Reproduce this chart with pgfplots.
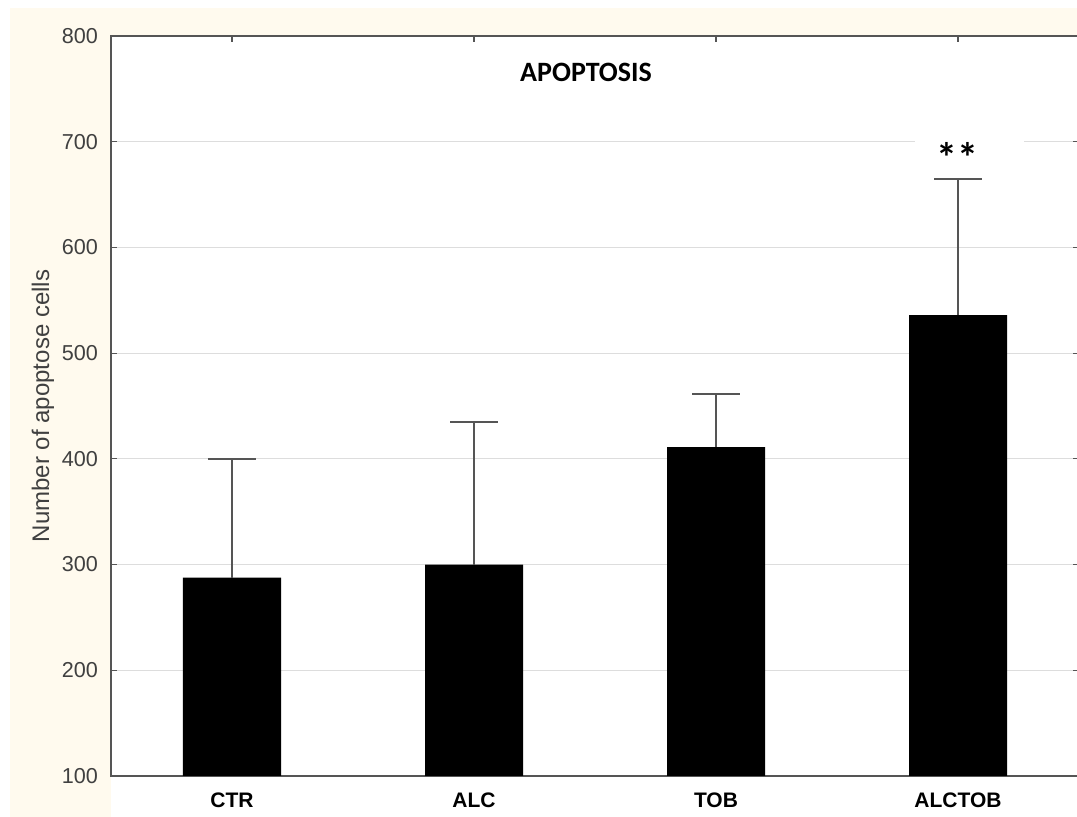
\documentclass[border=0pt]{standalone}
\usepackage{pgfplots}
\pgfplotsset{compat=1.18}
\usepackage{fontspec}
\setmainfont{Liberation Sans}
\newfontfamily\calibri{Carlito}
\definecolor{cream}{RGB}{255,250,238}
\definecolor{axgray}{RGB}{85,85,85}
\definecolor{gridgray}{RGB}{221,221,221}
\definecolor{txtgray}{RGB}{64,64,64}
\begin{document}
\begin{tikzpicture}
\useasboundingbox (0,0) rectangle (538.5pt,408.5pt);
\clip (0,0) rectangle (538.5pt,408.5pt);
\fill[cream] (5pt,0) rectangle (538.5pt,404.5pt);
\fill[white] (55.5pt,0) rectangle (538.5pt,390.5pt);
\begin{axis}[
  at={(55.5pt,20.5pt)}, anchor=south west,
  x=121pt, y=0.52857pt,
  xmin=-0.5, xmax=3.5, ymin=100, ymax=800,
  xtick={0,1,2,3},
  xticklabels={CTR,ALC,TOB,ALCTOB},
  xtick pos=top, xticklabel pos=bottom,
  ytick={100,200,...,800},
  tick align=inside,
  major tick length=3pt,
  tick style={draw=axgray, line width=0.6pt},
  axis line style={draw=axgray, line width=1pt},
  ymajorgrids,
  grid style={draw=gridgray, line width=0.6pt},
  /pgf/number format/assume math mode=true,
  yticklabel style={font=\fontsize{10.8}{12}\selectfont, text=txtgray, xshift=-3pt},
  xticklabel style={font=\bfseries\fontsize{10.5}{12}\selectfont, text=black, yshift=-5pt},
  ylabel={Number of apoptose cells},
  every axis y label/.style={at={(axis description cs:-0.0702,0.5)}, rotate=90, anchor=center, font=\fontsize{12}{14}\selectfont, text=txtgray},
]
\addplot[ybar, fill=black, draw=none, bar width=0.405,
  error bars/.cd, y dir=plus, y explicit,
  error bar style={draw=axgray, line width=0.9pt},
  error mark options={rotate=90, draw=axgray, line width=0.9pt, mark size=12pt}]
coordinates {
  (0,287.6) +- (0,112.4)
  (1,300.0) +- (0,134.6)
  (2,411.0) +- (0,50.0)
  (3,536.0) +- (0,129.0)
};
\node[font=\calibri\bfseries\fontsize{14}{16}\selectfont] at (axis cs:1.463,765.5) {APOPTOSIS};
\node[fill=white, minimum width=54.5pt, minimum height=27pt, inner sep=0pt] at (axis cs:3.047,695) {};
\node[anchor=base, inner sep=0pt, font=\calibri\bfseries\fontsize{21}{24}\selectfont] at (axis cs:2.996,671) {**};
\end{axis}
\end{tikzpicture}
\end{document}
